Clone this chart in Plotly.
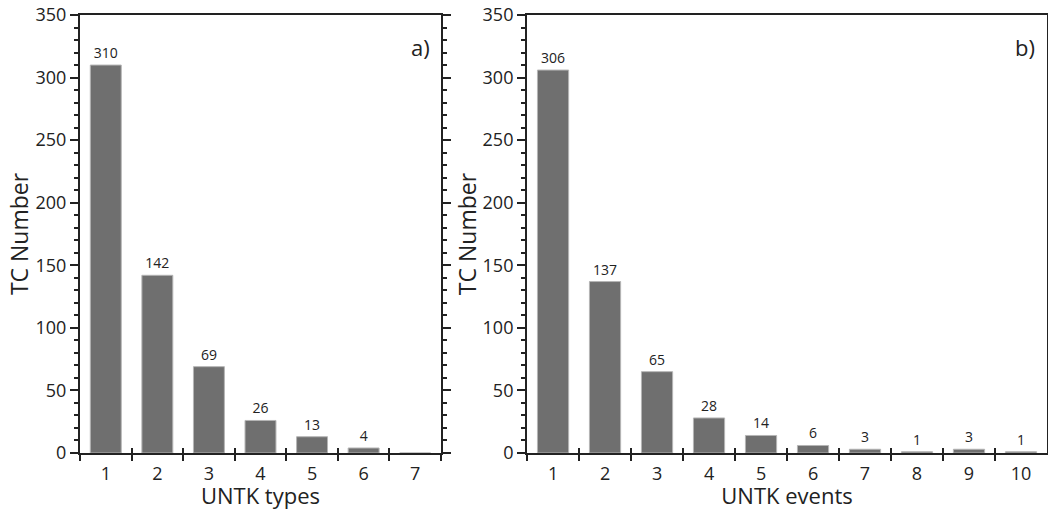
import plotly.graph_objects as go

cats_a = ["1", "2", "3", "4", "5", "6", "7"]
vals_a = [310, 142, 69, 26, 13, 4, 0]
labels_a = ["310", "142", "69", "26", "13", "4", ""]

cats_b = ["1", "2", "3", "4", "5", "6", "7", "8", "9", "10"]
vals_b = [306, 137, 65, 28, 14, 6, 3, 1, 3, 1]
labels_b = [str(v) for v in vals_b]

FONT = "Open Sans"
BAR = "#6f6f6f"
EDGE = "#b5b5b5"
AX = "#222222"

fig = go.Figure()
fig.add_trace(go.Bar(x=cats_a, y=vals_a, text=labels_a, textposition="outside",
                     textfont=dict(size=14, color="#222"), cliponaxis=False,
                     marker=dict(color=BAR, line=dict(color=EDGE, width=1)),
                     width=0.6, xaxis="x", yaxis="y", showlegend=False))
fig.add_trace(go.Bar(x=cats_b, y=vals_b, text=labels_b, textposition="outside",
                     textfont=dict(size=14, color="#222"), cliponaxis=False,
                     marker=dict(color=BAR, line=dict(color=EDGE, width=1)),
                     width=0.6, xaxis="x2", yaxis="y2", showlegend=False))

da = [0, 0.3733]
db = [0.4623, 1.0]

def xax(domain, anchor, title):
    return dict(domain=domain, anchor=anchor, type="category", automargin=False,
                showline=True, linecolor=AX, linewidth=2, mirror=True,
                ticks="outside", tickson="boundaries", ticklen=6, tickwidth=2, tickcolor=AX,
                ticklabelstandoff=3,
                tickfont=dict(size=18, family=FONT, color="#222"),
                title=dict(text=title, font=dict(size=22, family=FONT, color="#222"), standoff=9),
                showgrid=False, zeroline=False, fixedrange=True)

def yax(anchor):
    return dict(anchor=anchor, domain=[0, 1], range=[0, 350], dtick=50, automargin=False,
                showline=True, linecolor=AX, linewidth=2, mirror="ticks",
                ticks="outside", ticklen=8, tickwidth=2, tickcolor=AX,
                minor=dict(dtick=10, ticks="outside", ticklen=4, tickwidth=1.5, tickcolor=AX),
                tickfont=dict(size=18, family=FONT, color="#222"),
                title=dict(text="TC Number", font=dict(size=23, family=FONT, color="#222"), standoff=0),
                showgrid=False, zeroline=False, fixedrange=True)

# overlay axes for the inward half of the crossing category ticks
def xin(domain, anchor, overlay, ncat):
    return dict(domain=domain, anchor=anchor, overlaying=overlay, type="category", automargin=False,
                ticks="inside", tickson="boundaries", ticklen=5, tickwidth=2, tickcolor=AX,
                showticklabels=False, showline=False, showgrid=False, zeroline=False,
                range=[-0.5, ncat - 0.5], fixedrange=True)

fig.add_trace(go.Bar(x=cats_a, y=[None]*len(cats_a), xaxis="x3", yaxis="y", showlegend=False, hoverinfo="skip"))
fig.add_trace(go.Bar(x=cats_b, y=[None]*len(cats_b), xaxis="x4", yaxis="y2", showlegend=False, hoverinfo="skip"))

fig.update_layout(
    width=1048, height=510,
    margin=dict(l=80, r=1, t=15, b=57, autoexpand=False),
    paper_bgcolor="white", plot_bgcolor="white",
    font=dict(family=FONT, color="#222"),
    bargap=0.4,
    xaxis=dict(xax(da, "y", "UNTK types"), range=[-0.5, 6.5]),
    yaxis=yax("x"),
    xaxis2=dict(xax(db, "y2", "UNTK events"), range=[-0.5, 9.5]),
    yaxis2=yax("x2"),
    xaxis3=xin(da, "y", "x", len(cats_a)),
    xaxis4=xin(db, "y2", "x2", len(cats_b)),
    annotations=[
        dict(text="a)", xref="x domain", yref="y domain", x=0.975, y=0.965,
             xanchor="right", yanchor="top", showarrow=False, font=dict(size=22, family=FONT, color="#222")),
        dict(text="b)", xref="x2 domain", yref="y2 domain", x=0.98, y=0.965,
             xanchor="right", yanchor="top", showarrow=False, font=dict(size=22, family=FONT, color="#222")),
    ],
)

fig.write_html("out.html", config={"displayModeBar": False},
               post_script="document.body.style.margin='0';document.body.style.overflow='hidden';")
